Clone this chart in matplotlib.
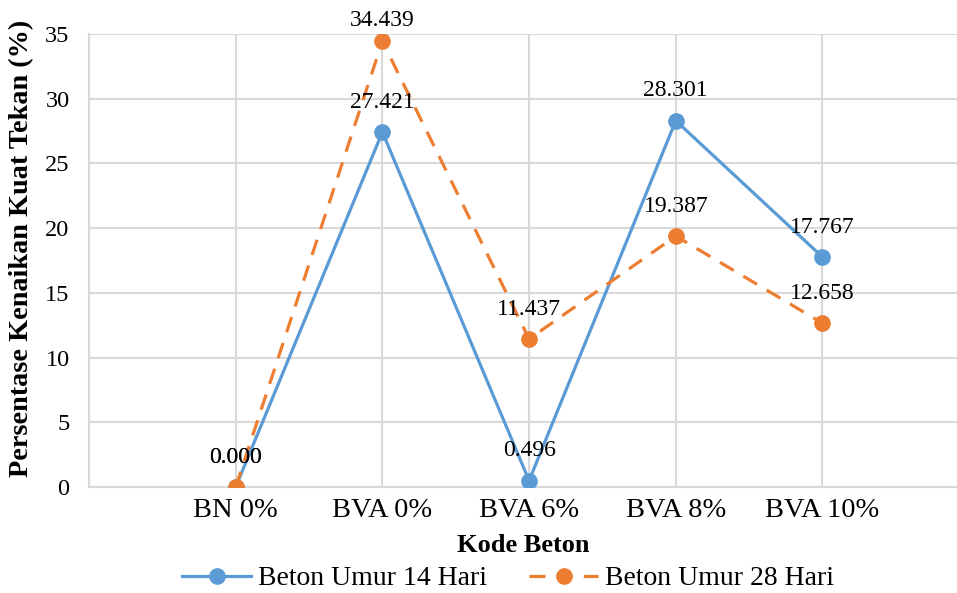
import numpy as np
import matplotlib.pyplot as plt
from matplotlib.transforms import ScaledTranslation, blended_transform_factory

plt.rcParams['font.family'] = ['Liberation Serif', 'DejaVu Serif']

categories = ['', 'BN 0%', 'BVA 0%', 'BVA 6%', 'BVA 8%', 'BVA 10%']
umur_14 = [0.000, 27.421, 0.496, 28.301, 17.767]
umur_28 = [0.000, 34.439, 11.437, 19.387, 12.658]

blue = '#5B9BD5'
orange = '#ED7D31'

fig = plt.figure(figsize=(9.57, 5.93), dpi=100)
ax = fig.add_axes([0.093, 0.1787, 0.907, 0.764])

x = np.arange(1, len(categories))

ax.plot(x, umur_14, color=blue, lw=2.3, marker='o', ms=11,
        label='Beton Umur 14 Hari', zorder=3)
ax.plot(x, umur_28, color=orange, lw=2.3, ls=(0, (5, 3.5)), marker='o', ms=11,
        label='Beton Umur 28 Hari', zorder=3)

# labels above points; Excel pushes the top one down to stay inside the chart
for series in (umur_14, umur_28):
    for xi, v in zip(x, series):
        dy = 15 if v > 33 else 21.5
        ax.annotate(f'{v:.3f}', (xi, v), xytext=(0, dy), textcoords='offset points',
                    ha='center', va='center', fontsize=17, zorder=4)

ax.set_xlim(0, 5.917)
ax.set_ylim(0, 35)
ax.set_yticks(np.arange(0, 36, 5))
ax.set_xticks(np.arange(len(categories)))
ax.set_xticklabels(categories, fontsize=20.5)
offset = ScaledTranslation(14 / 100, 0, fig.dpi_scale_trans)
for lab in ax.get_xticklabels():
    lab.set_transform(lab.get_transform() + offset)
ax.tick_params(axis='y', labelsize=17.5, length=0, pad=14)
ax.tick_params(axis='x', length=0, pad=8)

ax.grid(True, color='#D9D9D9', lw=1.5)
ax.set_axisbelow(True)
for s in ['top', 'right']:
    ax.spines[s].set_visible(False)
for s in ['left', 'bottom']:
    ax.spines[s].set_color('#D9D9D9')
    ax.spines[s].set_linewidth(1.5)

ax.set_xlabel('Kode Beton', fontsize=19, fontweight='bold', labelpad=8)
ax.set_ylabel('Persentase Kenaikan Kuat Tekan (%)', fontsize=20.3,
              fontweight='bold')
ax.yaxis.set_label_coords(22 / 957, 0.526,
                          transform=blended_transform_factory(fig.transFigure, ax.transAxes))
ax.yaxis.label.set_va('center')

fig.legend(loc='center', bbox_to_anchor=(0.531, 0.024), ncol=2, frameon=False,
           fontsize=20, handlelength=2.5, columnspacing=1.5, handletextpad=0.25)

fig.savefig('out.png', dpi=100)
